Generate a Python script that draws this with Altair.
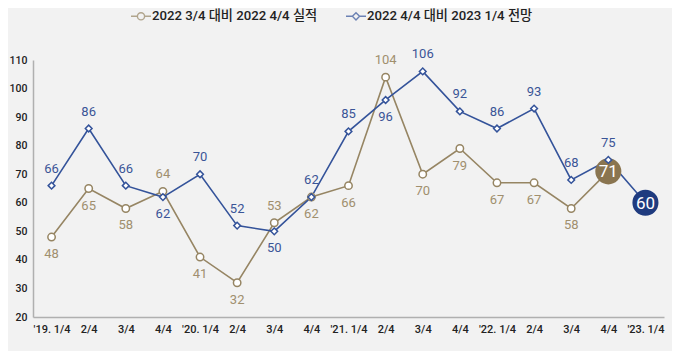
import json
import altair as alt
import pandas as pd

# ---- data ----
keys = ["19Q1", "19Q2", "19Q3", "19Q4", "20Q1", "20Q2", "20Q3", "20Q4",
        "21Q1", "21Q2", "21Q3", "21Q4", "22Q1", "22Q2", "22Q3", "22Q4", "23Q1"]
tick_labels = ["'19. 1/4", "2/4", "3/4", "4/4", "'20. 1/4", "2/4", "3/4", "4/4",
               "'21. 1/4", "2/4", "3/4", "4/4", "'22. 1/4", "2/4", "3/4", "4/4", "'23. 1/4"]
series_names = ["2022 3/4 대비 2022 4/4 실적", "2022 4/4 대비 2023 1/4 전망"]
actual = [48, 65, 58, 64, 41, 32, 53, 62, 66, 104, 70, 79, 67, 67, 58, 71]
outlook = [66, 86, 66, 62, 70, 52, 50, 62, 85, 96, 106, 92, 86, 93, 68, 75, 60]

# label placement (indices whose label sits on the opposite side)
actual_above_idx = [3, 6, 9]
outlook_below_idx = [3, 6, 9]

BROWN_LINE = "#968563"
BLUE_LINE = "#34539a"
BROWN_TXT = "#a08f6e"
BLUE_TXT = "#3a5597"
BROWN_BIG = "#8a7550"
BLUE_BIG = "#1f3b7f"
FONT = "Roboto, 'Noto Sans CJK KR', sans-serif"

rows = []
for i, v in enumerate(actual):
    last = i == len(actual) - 1
    side = "big" if last else ("above" if i in actual_above_idx else "below")
    rows.append({"q": keys[i], "value": v, "series": series_names[0], "side": side})
for i, v in enumerate(outlook):
    last = i == len(outlook) - 1
    side = "big" if last else ("below" if i in outlook_below_idx else "above")
    rows.append({"q": keys[i], "value": v, "series": series_names[1], "side": side})
df = pd.DataFrame(rows)

label_expr = f"{json.dumps(tick_labels)}[indexof({json.dumps(keys)}, datum.value)]"

x = alt.X("q:N", sort=keys, title=None,
          scale=alt.Scale(type="point", padding=0.5, domain=keys),
          axis=alt.Axis(labelExpr=label_expr, labelAngle=0, ticks=False, grid=False,
                        domainColor="#b0b0b0", domainWidth=1.5, labelPadding=6,
                        labelFont=FONT, labelFontSize=11, labelColor="#222222",
                        labelFontWeight=500))
y = alt.Y("value:Q", title=None,
          scale=alt.Scale(domain=[20, 110], nice=False, zero=False),
          axis=alt.Axis(values=list(range(20, 111, 10)), ticks=False, grid=False,
                        domainColor="#b0b0b0", domainWidth=1.5, labelPadding=6,
                        labelFont=FONT, labelFontSize=10.5, labelColor="#222222",
                        labelFontWeight=500))

base = alt.Chart(df)
is_a = alt.datum.series == series_names[0]
is_b = alt.datum.series == series_names[1]

line_a = base.transform_filter(is_a).mark_line(strokeWidth=1.6, color=BROWN_LINE).encode(x=x, y=y)
line_b = base.transform_filter(is_b).mark_line(strokeWidth=1.6, color=BLUE_LINE).encode(x=x, y=y)

pts_a = base.transform_filter(is_a & (alt.datum.side != "big")).mark_point(
    shape="circle", filled=True, fill="white", stroke=BROWN_LINE,
    strokeWidth=1.5, size=55, opacity=1).encode(x=x, y=y)
pts_b = base.transform_filter(is_b & (alt.datum.side != "big")).mark_point(
    shape="diamond", filled=True, fill="white", stroke=BLUE_LINE,
    strokeWidth=1.5, size=45, opacity=1).encode(x=x, y=y)

big_a = base.transform_filter(is_a & (alt.datum.side == "big")).mark_circle(
    size=680, opacity=1, color=BROWN_BIG).encode(x=x, y=y)
big_b = base.transform_filter(is_b & (alt.datum.side == "big")).mark_circle(
    size=680, opacity=1, color=BLUE_BIG).encode(x=x, y=y)

big_txt = base.transform_filter(alt.datum.side == "big").mark_text(
    color="white", font=FONT, fontSize=17, baseline="middle", dy=1).encode(
    x=x, y=y, text="value:Q")

def side_text(cond, side, dy, col):
    return base.transform_filter(cond & (alt.datum.side == side)).mark_text(
        font=FONT, fontSize=13, baseline="middle", dy=dy, color=col).encode(
        x=x, y=y, text="value:Q")

texts = [side_text(is_a, "above", -17, BROWN_TXT), side_text(is_a, "below", 17, BROWN_TXT),
         side_text(is_b, "above", -17, BLUE_TXT), side_text(is_b, "below", 17, BLUE_TXT)]

# legend layer (no visible marks)
legend_paths = [
    "M-1,0H-0.36M0.36,0H1M0.36,0A0.36,0.36 0 1,1 -0.36,0A0.36,0.36 0 1,1 0.36,0Z",
    "M-1,0H-0.36M0.36,0H1M0,-0.36L0.36,0L0,0.36L-0.36,0Z",
]
leg = dict(orient="none", direction="horizontal", legendX=97, legendY=-55,
           symbolSize=400, symbolStrokeWidth=1.4, columnPadding=25,
           labelFont=FONT, labelFontSize=13.2, labelFontWeight=500,
           labelColor="#222222", labelOffset=0, labelLimit=400, title=None)
legend_layer = base.transform_filter(alt.datum.value > 1000).mark_point(
    filled=False, strokeWidth=1.4).encode(
    x=x, y=y,
    color=alt.Color("series:N", title=None,
                    scale=alt.Scale(domain=series_names, range=[BROWN_LINE, BLUE_LINE]),
                    legend=alt.Legend(**leg)),
    shape=alt.Shape("series:N", title=None,
                    scale=alt.Scale(domain=series_names, range=legend_paths),
                    legend=alt.Legend(**leg)),
)

chart = alt.layer(
    line_a, line_b, big_a, big_b, pts_a, pts_b, *texts, big_txt, legend_layer
).properties(
    width=631, height=257,
    autosize=alt.AutoSizeParams(type="none"),
    padding={"left": 25, "top": 52, "right": 8, "bottom": 34},
    background="#f2f2f2",
).configure_view(stroke=None)

chart.save("out.html", embed_options={"renderer": "svg", "actions": False})
